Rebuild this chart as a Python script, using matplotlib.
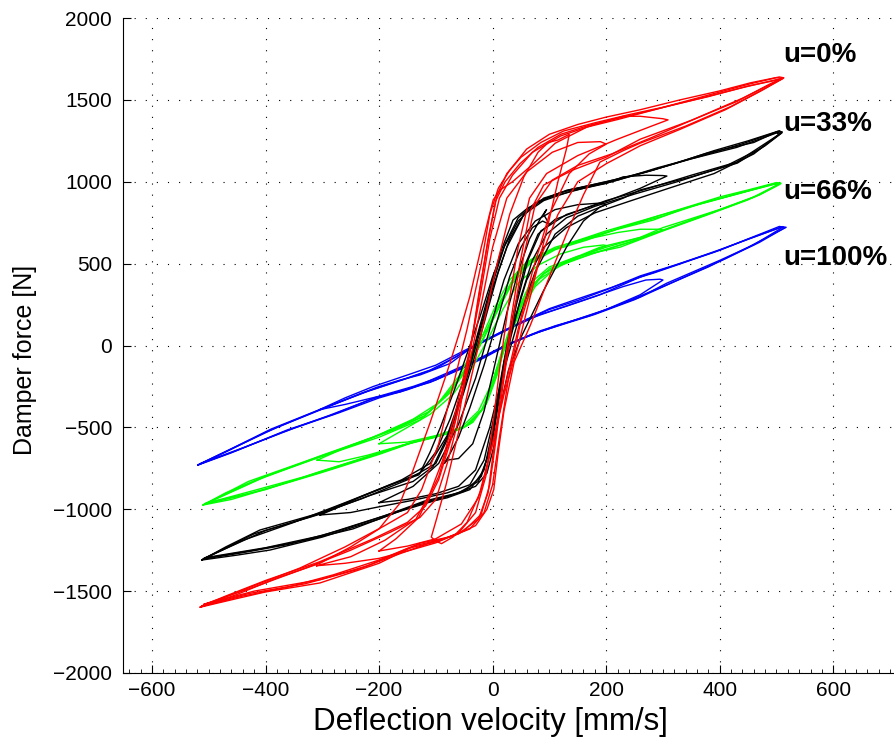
import numpy as np
import matplotlib
matplotlib.use('Agg')
import matplotlib.pyplot as plt
from matplotlib.ticker import MultipleLocator

# Damper force vs. deflection velocity, hysteresis loops
# each loop: (velocity [mm/s], force [N]) from the negative tip, up and back

# ---- u = 0% (red) ----
red_big_a = [(-515, -1598), (-450, -1545), (-400, -1505), (-304, -1450), (-200, -1330), (-128, -1207),
             (-70, -1165), (-30, -1100), (-10, -1000), (2, -880), (10, -650), (20, -400), (38, -100),
             (66, 120), (100, 420), (130, 680), (160, 920), (189, 1120), (230, 1190), (260, 1236),
             (340, 1340), (420, 1460), (480, 1570), (512, 1632),
             (500, 1636), (450, 1595), (400, 1548), (340, 1492), (283, 1438), (220, 1380), (166, 1334),
             (110, 1235), (72, 1110), (35, 1000), (13, 950), (1, 889), (-20, 600), (-40, 300), (-57, 95),
             (-80, -160), (-110, -470), (-140, -760), (-163, -962), (-200, -1120), (-250, -1230),
             (-304, -1330), (-380, -1420), (-450, -1520), (-515, -1598)]
red_big_b = [(-512, -1590), (-430, -1515), (-330, -1455), (-240, -1370), (-170, -1280), (-110, -1205),
             (-60, -1150), (-25, -1060), (-8, -900), (5, -550), (18, -200), (32, 150), (48, 500), (66, 820),
             (90, 980), (140, 1070), (200, 1150), (260, 1260), (350, 1375), (430, 1490), (490, 1600), (510, 1630),
             (505, 1628), (440, 1575), (360, 1505), (290, 1445), (230, 1395), (170, 1345), (120, 1290),
             (80, 1210), (48, 1110), (22, 1000), (5, 880), (-10, 600), (-25, 300), (-38, 0), (-55, -300),
             (-72, -560), (-95, -820), (-118, -980), (-150, -1080), (-210, -1180), (-304, -1320),
             (-400, -1435), (-470, -1530), (-512, -1590)]
red_big_c = [(-508, -1580), (-420, -1500), (-304, -1430), (-220, -1345), (-150, -1240), (-95, -1195),
             (-50, -1130), (-20, -1030), (-5, -850), (5, -600), (18, -250), (35, 150), (55, 550), (75, 860),
             (105, 1010), (150, 1100), (210, 1170), (280, 1270), (360, 1390), (440, 1510), (505, 1622),
             (508, 1626), (450, 1585), (380, 1520), (300, 1455), (240, 1410), (180, 1360), (125, 1310),
             (85, 1240), (50, 1150), (25, 1050), (8, 920), (-8, 650), (-22, 350), (-33, 100), (-48, -200),
             (-62, -480), (-80, -720), (-100, -940), (-128, -1050), (-180, -1140), (-250, -1250),
             (-330, -1360), (-420, -1475), (-508, -1580)]
red_big_d = [(-513, -1594), (-440, -1530), (-360, -1475), (-280, -1400), (-200, -1310), (-140, -1225),
             (-85, -1180), (-40, -1120), (-15, -1020), (0, -850), (12, -560), (28, -200), (50, 150), (80, 500),
             (115, 800), (150, 1000), (200, 1110), (260, 1220), (330, 1320), (410, 1440), (470, 1550), (513, 1635),
             (505, 1640), (455, 1605), (400, 1555), (330, 1500), (260, 1440), (200, 1395), (150, 1350),
             (100, 1290), (60, 1200), (30, 1070), (10, 960), (-5, 800), (-20, 500), (-45, 100), (-70, -250),
             (-95, -600), (-125, -880), (-150, -1020), (-190, -1100), (-260, -1230), (-340, -1360),
             (-430, -1480), (-513, -1594)]
red_mid = [(-310, -1345), (-260, -1330), (-200, -1300), (-150, -1255), (-100, -1205), (-60, -1145),
           (-30, -1020), (-12, -800), (0, -500), (12, -150), (28, 250), (45, 600), (65, 900), (95, 1050),
           (150, 1160), (220, 1260), (280, 1340), (309, 1378),
           (300, 1385), (260, 1400), (230, 1400), (180, 1350), (120, 1280), (70, 1180), (35, 1040),
           (12, 900), (-5, 650), (-22, 300), (-42, -50), (-65, -400), (-88, -700), (-110, -900),
           (-135, -1060), (-190, -1190), (-250, -1290), (-310, -1345)]
red_small = [(-100, -1195), (-90, -1210), (-70, -1170), (-45, -1080), (-20, -880), (0, -600), (20, -300),
             (45, 0), (70, 350), (95, 700), (115, 1000), (130, 1200), (135, 1290),
             (115, 1255), (98, 1240), (80, 1180), (55, 1030), (30, 800), (8, 500), (-15, 150), (-38, -200),
             (-60, -530), (-82, -850), (-98, -1050), (-108, -1170), (-100, -1195)]
red_small2 = [(-200, -1255), (-150, -1225), (-100, -1180), (-55, -1090), (-25, -930), (0, -600), (22, -250),
              (45, 100), (70, 450), (100, 800), (135, 1050), (170, 1170), (200, 1230),
              (190, 1245), (150, 1240), (105, 1180), (60, 1060), (25, 900), (0, 600), (-20, 250), (-40, -100),
              (-65, -450), (-95, -800), (-130, -1050), (-170, -1180), (-200, -1255)]

# ---- u = 33% (black) ----
blk_big_a = [(-512, -1310), (-450, -1280), (-392, -1249), (-300, -1170), (-200, -1060), (-128, -965),
             (-70, -910), (-30, -860), (-10, -780), (2, -620), (12, -400), (28, -150), (50, 50), (89, 330),
             (130, 600), (160, 760), (189, 846), (230, 900), (260, 950), (350, 1030), (431, 1114),
             (480, 1220), (510, 1300),
             (505, 1312), (460, 1240), (378, 1175), (283, 1071), (201, 992), (131, 949), (80, 880), (45, 760),
             (20, 600), (0, 420), (-20, 200), (-40, 0), (-65, -250), (-92, -500), (-110, -650), (-128, -779),
             (-200, -880), (-304, -1023), (-410, -1127), (-470, -1230), (-512, -1310)]
blk_big_b = [(-508, -1300), (-420, -1250), (-330, -1190), (-246, -1120), (-170, -1020), (-100, -945),
             (-50, -890), (-20, -800), (0, -580), (15, -250), (32, 50), (50, 300), (70, 520), (95, 680),
             (130, 780), (180, 850), (250, 925), (330, 1005), (410, 1095), (470, 1200), (508, 1296),
             (500, 1304), (440, 1232), (360, 1150), (290, 1085), (220, 1010), (160, 960), (100, 905),
             (62, 840), (36, 766), (15, 580), (-8, 300), (-28, 50), (-50, -250), (-75, -540), (-100, -720),
             (-150, -820), (-230, -935), (-320, -1045), (-420, -1150), (-508, -1300)]
blk_big_c = [(-505, -1295), (-400, -1235), (-300, -1160), (-200, -1050), (-130, -970), (-80, -930),
             (-40, -880), (-15, -760), (0, -520), (12, -250), (25, 0), (40, 250), (58, 500), (80, 680),
             (110, 770), (154, 827), (200, 885), (270, 955), (350, 1040), (430, 1120), (505, 1290),
             (500, 1298), (430, 1210), (350, 1140), (270, 1060), (200, 1000), (140, 955), (90, 900),
             (55, 800), (30, 650), (10, 450), (-10, 200), (-30, -50), (-52, -300), (-80, -560), (-105, -740),
             (-140, -830), (-220, -920), (-304, -1030), (-400, -1130), (-505, -1295)]
blk_big_d = [(-510, -1305), (-440, -1265), (-360, -1215), (-270, -1130), (-190, -1040), (-120, -950),
             (-60, -900), (-25, -830), (-5, -650), (8, -380), (20, -100), (38, 150), (60, 400), (90, 600),
             (130, 720), (180, 810), (240, 880), (310, 960), (390, 1050), (460, 1170), (510, 1305),
             (502, 1308), (450, 1250), (390, 1190), (320, 1110), (250, 1040), (180, 985), (120, 935),
             (75, 870), (45, 780), (22, 620), (2, 400), (-18, 150), (-45, -150), (-75, -450), (-100, -650),
             (-130, -790), (-180, -850), (-260, -960), (-350, -1080), (-440, -1190), (-510, -1305)]
blk_mid = [(-304, -1035), (-250, -1020), (-200, -985), (-140, -945), (-80, -900), (-40, -850), (-15, -700),
           (5, -400), (22, -100), (42, 250), (62, 520), (85, 700), (130, 800), (200, 880), (260, 960),
           (307, 1035),
           (300, 1038), (270, 1040), (230, 1030), (200, 990), (140, 945), (90, 885), (55, 800), (25, 600),
           (0, 350), (-25, 50), (-50, -250), (-80, -550), (-110, -720), (-160, -820), (-230, -920),
           (-280, -1000), (-304, -1035)]
blk_small = [(-80, -700), (-60, -690), (-35, -600), (-15, -400), (5, -100), (25, 200), (45, 450), (65, 650),
             (85, 780), (95, 830), (90, 800), (100, 740), (88, 760), (70, 720), (50, 600), (30, 420), (8, 150),
             (-15, -120), (-40, -380), (-60, -560), (-75, -660), (-85, -720), (-80, -700)]
blk_small2 = [(-200, -960), (-150, -940), (-100, -905), (-60, -860), (-30, -760), (-5, -500), (20, -150),
              (45, 150), (75, 450), (110, 680), (150, 790), (200, 860),
              (190, 870), (150, 860), (110, 830), (75, 760), (45, 620), (20, 400), (-5, 100), (-30, -200),
              (-60, -480), (-95, -720), (-140, -860), (-200, -960)]

# ---- u = 66% (green) ----
grn_big_a = [(-510, -974), (-460, -940), (-422, -901), (-304, -779), (-200, -665), (-128, -577), (-70, -530),
             (-35, -470), (-10, -350), (8, -180), (22, 0), (45, 200), (70, 370), (101, 470), (140, 530),
             (189, 600), (260, 660), (300, 720), (400, 830), (460, 905), (507, 992),
             (500, 995), (450, 950), (401, 908), (300, 800), (200, 700), (131, 620), (80, 540), (45, 440),
             (15, 280), (-10, 100), (-30, 0), (-60, -190), (-100, -370), (-128, -455), (-200, -560),
             (-304, -681), (-404, -803), (-470, -900), (-510, -974)]
grn_big_b = [(-506, -965), (-420, -885), (-330, -800), (-240, -700), (-160, -610), (-100, -555), (-50, -500),
             (-20, -400), (0, -230), (15, -50), (35, 150), (60, 330), (90, 440), (130, 510), (189, 575),
             (250, 640), (330, 740), (410, 840), (470, 920), (506, 985),
             (502, 990), (440, 935), (370, 870), (300, 790), (230, 725), (166, 644), (110, 585), (66, 500),
             (35, 380), (10, 220), (-15, 50), (-38, -100), (-70, -260), (-110, -400), (-150, -470),
             (-230, -590), (-320, -700), (-410, -815), (-506, -965)]
grn_big_c = [(-502, -960), (-400, -880), (-304, -770), (-210, -670), (-150, -600), (-90, -550), (-45, -490),
             (-15, -380), (5, -200), (20, -20), (40, 180), (66, 380), (100, 480), (150, 545), (225, 601),
             (300, 700), (380, 800), (450, 890), (502, 980),
             (495, 985), (420, 915), (340, 840), (283, 766), (220, 710), (150, 635), (100, 580), (60, 510),
             (30, 400), (5, 240), (-18, 60), (-42, -110), (-75, -280), (-120, -430), (-170, -510),
             (-250, -610), (-340, -720), (-430, -830), (-502, -960)]
grn_big_d = [(-508, -970), (-440, -915), (-360, -835), (-280, -750), (-200, -660), (-140, -590), (-80, -540),
             (-40, -480), (-12, -360), (5, -160), (25, 40), (50, 240), (80, 400), (120, 490), (175, 560),
             (240, 630), (320, 730), (400, 830), (470, 920), (508, 990),
             (500, 993), (430, 925), (360, 860), (290, 790), (220, 712), (160, 650), (110, 600), (70, 530),
             (40, 430), (15, 270), (-8, 100), (-32, -60), (-60, -210), (-95, -350), (-140, -450),
             (-210, -560), (-300, -670), (-400, -800), (-508, -970)]
grn_mid = [(-309, -700), (-270, -710), (-220, -670), (-160, -610), (-100, -560), (-50, -500), (-15, -380),
           (8, -150), (28, 60), (55, 280), (90, 440), (140, 530), (200, 600), (260, 660), (300, 705),
           (295, 710), (260, 710), (220, 690), (160, 645), (110, 590), (65, 510), (35, 400), (10, 230),
           (-15, 50), (-40, -120), (-75, -290), (-120, -430), (-180, -520), (-250, -610), (-309, -700)]
grn_small = [(-200, -600), (-150, -590), (-100, -550), (-55, -500), (-25, -400), (0, -220), (20, -30),
             (45, 180), (75, 360), (110, 470), (150, 540), (201, 610),
             (195, 614), (160, 600), (120, 560), (80, 490), (45, 380), (18, 220), (-8, 40), (-35, -130),
             (-70, -300), (-110, -420), (-150, -500), (-200, -600)]

# ---- u = 100% (blue) ----
blu_big_a = [(-519, -730), (-460, -655), (-362, -516), (-280, -420), (-204, -314), (-163, -284), (-128, -240),
             (-75, -160), (-30, -90), (10, -20), (50, 40), (84, 90), (140, 150), (189, 205), (260, 296),
             (307, 381), (400, 520), (460, 615), (512, 724),
             (505, 727), (460, 665), (401, 583), (340, 510), (283, 442), (260, 418), (189, 310), (130, 240),
             (84, 190), (40, 120), (0, 50), (-40, -20), (-75, -110), (-128, -180), (-163, -211), (-204, -255),
             (-304, -394), (-380, -500), (-457, -626), (-519, -730)]
blu_big_b = [(-515, -722), (-440, -625), (-350, -505), (-270, -410), (-200, -320), (-150, -270), (-100, -210),
             (-50, -130), (-10, -60), (30, 10), (70, 70), (120, 125), (180, 190), (250, 280), (320, 390),
             (410, 530), (470, 630), (515, 720),
             (508, 722), (450, 650), (390, 570), (320, 490), (260, 425), (200, 340), (150, 275), (100, 220),
             (60, 160), (20, 90), (-20, 20), (-60, -60), (-100, -140), (-150, -200), (-220, -280),
             (-300, -385), (-390, -510), (-460, -630), (-515, -722)]
blu_big_c = [(-517, -726), (-450, -640), (-370, -530), (-290, -430), (-215, -330), (-160, -275), (-110, -225),
             (-60, -150), (-15, -75), (25, 0), (65, 60), (110, 120), (170, 180), (230, 260), (300, 360),
             (380, 480), (450, 600), (517, 722),
             (510, 725), (455, 655), (400, 585), (330, 500), (270, 430), (210, 355), (150, 285), (100, 225),
             (55, 150), (15, 80), (-25, 10), (-65, -70), (-110, -150), (-160, -210), (-230, -290),
             (-310, -400), (-400, -530), (-470, -650), (-517, -726)]
blu_mid = [(-305, -392), (-260, -360), (-200, -310), (-140, -250), (-90, -190), (-45, -120), (-5, -50),
           (35, 20), (80, 80), (140, 150), (200, 220), (260, 310), (300, 400),
           (295, 405), (270, 400), (230, 360), (180, 300), (120, 230), (70, 170), (25, 100), (-15, 30),
           (-55, -40), (-100, -120), (-150, -180), (-210, -250), (-260, -320), (-305, -392)]

labels = ['u=0%', 'u=33%', 'u=66%', 'u=100%']
label_force = [1775, 1350, 940, 535]

groups = [
    ('#0000ff', [blu_big_a, blu_big_b, blu_big_c, blu_mid]),
    ('#00ff00', [grn_big_a, grn_big_b, grn_big_c, grn_big_d, grn_mid, grn_small]),
    ('k', [blk_big_a, blk_big_b, blk_big_c, blk_big_d, blk_mid, blk_small, blk_small2]),
    ('#ff0000', [red_big_a, red_big_b, red_big_c, red_big_d, red_mid, red_small, red_small2]),
]

plt.rcParams['font.family'] = 'Liberation Sans'

fig = plt.figure(figsize=(8.94, 7.42), dpi=100)
ax = fig.add_axes([0.1376, 0.093, 0.8624, 0.8827])

for color, loops in groups:
    for loop in loops:
        pts = np.array(loop)
        ax.plot(pts[:, 0], pts[:, 1], color=color, lw=1.0)

for lab, f in zip(labels, label_force):
    ax.text(512, f, lab, fontsize=20, fontweight='bold', va='center', ha='left')

ax.set_xlim(-651, 707)
ax.set_ylim(-2000, 2000)
ax.set_xticks(np.arange(-600, 601, 200))
ax.set_yticks(np.arange(-2000, 2001, 500))
ax.xaxis.set_minor_locator(MultipleLocator(20))
ax.set_xticklabels([str(int(t)).replace('-', '\u2212') for t in np.arange(-600, 601, 200)])
ax.set_yticklabels([str(int(t)).replace('-', '\u2212') for t in np.arange(-2000, 2001, 500)])

ax.spines['top'].set_visible(False)
ax.spines['right'].set_visible(False)
ax.tick_params(direction='in', length=6, width=0.8, labelsize=15)
ax.tick_params(axis='x', which='minor', direction='in', length=3, width=0.6)
ax.tick_params(axis='y', pad=8)
ax.tick_params(axis='x', pad=6)
ax.grid(True, which='major', color='k', linestyle=(0, (1, 9)), lw=0.8)

ax.set_xlabel('Deflection velocity [mm/s]', fontsize=22.5)
ax.xaxis.set_label_coords(0.476, -0.052)
ax.set_ylabel('Damper force [N]', fontsize=18)
ax.yaxis.set_label_coords(-0.112, 0.478)

plt.savefig('out.png', dpi=100)
plt.close()
